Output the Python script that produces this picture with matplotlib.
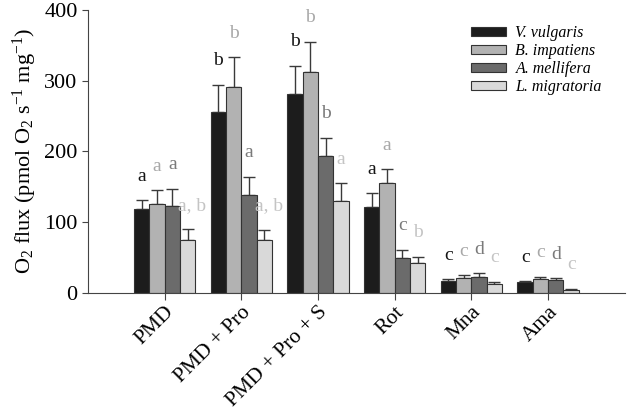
import numpy as np
import matplotlib
matplotlib.use('Agg')
import matplotlib.pyplot as plt
from matplotlib.patches import Patch

# dados
tratamentos = ['PMD', 'PMD + Pro', 'PMD + Pro + S', 'Rot', 'Mna', 'Ama']
especies = ['V. vulgaris', 'B. impatiens', 'A. mellifera', 'L. migratoria']

v_vulgaris = [118, 256, 281, 121, 17, 15]
b_impatiens = [125, 291, 312, 156, 21, 20]
a_mellifera = [123, 138, 193, 50, 23, 18]
l_migratoria = [75, 75, 130, 42, 13, 4]

v_vulgaris_erro = [13, 38, 40, 20, 2, 1.5]
b_impatiens_erro = [20, 42, 43, 19, 4, 2.5]
a_mellifera_erro = [24, 26, 26, 11, 5, 3]
l_migratoria_erro = [15, 14, 25, 9, 3, 1.5]

v_vulgaris_letras = ['a', 'b', 'b', 'a', 'c', 'c']
b_impatiens_letras = ['a', 'b', 'b', 'a', 'c', 'c']
a_mellifera_letras = ['a', 'a', 'b', 'c', 'd', 'd']
l_migratoria_letras = ['a, b', 'a, b', 'a', 'b', 'c', 'c']

plt.rcParams['font.family'] = 'Liberation Serif'
plt.rcParams['mathtext.fontset'] = 'custom'
plt.rcParams['mathtext.rm'] = 'Liberation Serif'
plt.rcParams['mathtext.it'] = 'Liberation Serif:italic'

cores = ['#1c1c1c', '#b2b2b2', '#6b6b6b', '#d9d9d9']
cores_letras = ['#151515', '#a8a8a8', '#7a7a7a', '#c4c4c4']

valores = [v_vulgaris, b_impatiens, a_mellifera, l_migratoria]
erros = [v_vulgaris_erro, b_impatiens_erro, a_mellifera_erro, l_migratoria_erro]
letras = [v_vulgaris_letras, b_impatiens_letras, a_mellifera_letras, l_migratoria_letras]

fig = plt.figure(figsize=(6.28, 4.12), dpi=100)
ax = fig.add_axes([0.140, 0.289, 0.855, 0.687])

x = np.arange(1, len(tratamentos) + 1)
largura = 0.2
for i in range(4):
    pos = x + (i - 1.5) * largura
    ax.bar(pos, valores[i], largura, color=cores[i], edgecolor='#333333',
           linewidth=0.8, zorder=2)
    ax.errorbar(pos, valores[i], yerr=[np.zeros(6), erros[i]], fmt='none',
                ecolor='#3a3a3a', elinewidth=1, capsize=4, capthick=1, zorder=1)
    for p, v, e, t in zip(pos, valores[i], erros[i], letras[i]):
        # rotulos com virgula ficam um pouco deslocados para a direita
        dx = 0.06 if ',' in t else 0
        ax.text(p + dx, v + e + 22, t, ha='center', va='bottom', fontsize=14,
                color=cores_letras[i])

ax.set_xlim(0, 7)
ax.set_ylim(0, 400)
ax.set_yticks([0, 100, 200, 300, 400])
ax.set_xticks(x)
ax.set_xticklabels(tratamentos, rotation=45, ha='right', va='top',
                   rotation_mode='anchor', fontsize=15.5)
ax.tick_params(axis='y', labelsize=16, direction='out', length=4, color='#444444')
ax.tick_params(axis='x', direction='out', length=5, color='#444444', pad=2)
for s in ['top', 'right']:
    ax.spines[s].set_visible(False)
for s in ['left', 'bottom']:
    ax.spines[s].set_color('#444444')
ax.set_ylabel(r'O$_2$ flux (pmol O$_2$ s$^{-1}$ mg$^{-1}$)', fontsize=16, labelpad=4)

handles = [Patch(facecolor=cores[i], edgecolor='#333333', linewidth=0.8) for i in range(4)]
ax.legend(handles, especies, loc='upper right', bbox_to_anchor=(0.975, 0.98),
          frameon=False, prop={'style': 'italic', 'size': 11.5},
          handlelength=2.2, handleheight=0.5, labelspacing=0.12, handletextpad=0.6,
          borderaxespad=0.2)

fig.savefig('out.png', dpi=100)
